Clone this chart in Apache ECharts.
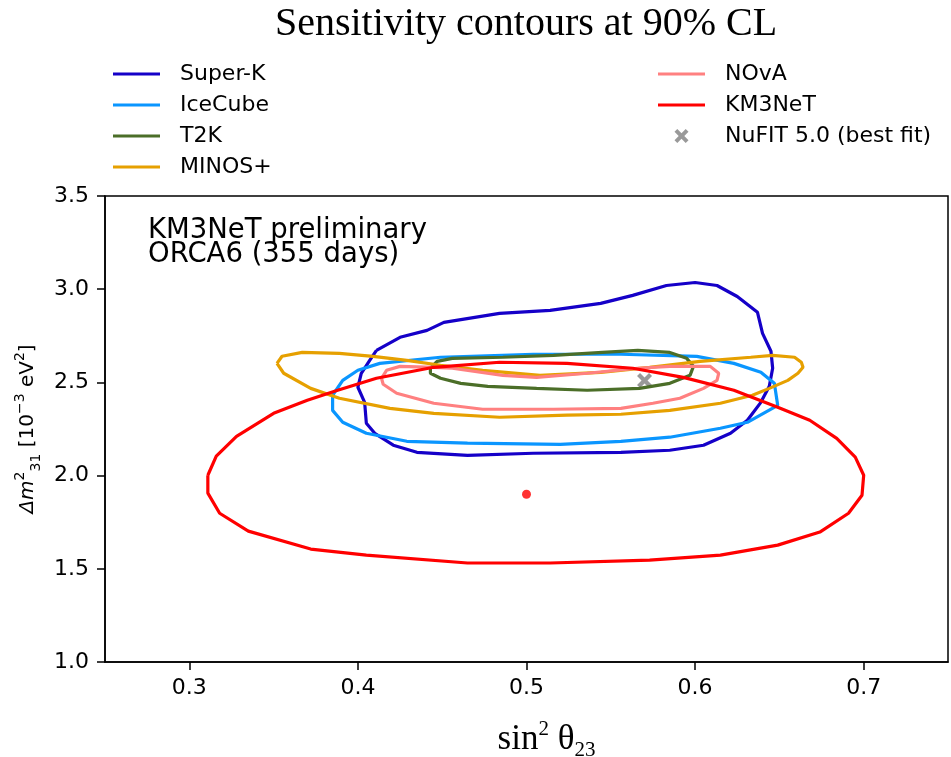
<!DOCTYPE html>
<html>
<head>
<meta charset="utf-8">
<script src="https://cdn.jsdelivr.net/npm/echarts@6/dist/echarts.min.js"></script>
<style>
  html, body { margin: 0; padding: 0; background: #fff; }
  #chart { width: 951px; height: 757px; }
</style>
</head>
<body>
<div id="chart"></div>
<script>
// contour points: [sin^2 theta23, dm^2_31 (1e-3 eV^2)]
var superK = [[0.411,2.672],[0.425,2.742],[0.441,2.779],[0.451,2.822],[0.484,2.870],[0.514,2.886],[0.544,2.924],
    [0.563,2.967],[0.583,3.020],[0.600,3.036],[0.613,3.020],[0.625,2.961],[0.637,2.876],[0.640,2.763],[0.645,2.667],
    [0.646,2.576],[0.644,2.479],[0.639,2.393],[0.631,2.297],[0.621,2.227],[0.605,2.163],[0.585,2.136],[0.556,2.125],
    [0.504,2.120],[0.465,2.109],[0.435,2.125],[0.421,2.163],[0.410,2.227],[0.405,2.281],[0.404,2.393],[0.400,2.474],
    [0.402,2.549],[0.407,2.618],[0.411,2.672]];
var iceCube = [[0.385,2.431],[0.391,2.511],[0.400,2.565],[0.413,2.602],[0.449,2.635],[0.504,2.651],[0.556,2.651],
    [0.601,2.640],[0.623,2.602],[0.639,2.554],[0.647,2.495],[0.649,2.377],[0.631,2.286],[0.615,2.254],[0.585,2.206],
    [0.556,2.184],[0.520,2.168],[0.465,2.174],[0.429,2.184],[0.405,2.227],[0.391,2.286],[0.385,2.350],[0.385,2.431]];
var t2k = [[0.443,2.576],[0.447,2.613],[0.456,2.629],[0.486,2.635],[0.516,2.645],[0.545,2.661],[0.566,2.672],
    [0.585,2.661],[0.595,2.629],[0.599,2.586],[0.597,2.538],[0.585,2.495],[0.567,2.468],[0.536,2.458],[0.506,2.468],
    [0.477,2.479],[0.461,2.495],[0.449,2.522],[0.443,2.549],[0.443,2.576]];
var minos = [[0.352,2.602],[0.355,2.640],[0.367,2.661],[0.389,2.656],[0.409,2.640],[0.429,2.618],[0.449,2.592],
    [0.474,2.565],[0.508,2.538],[0.544,2.554],[0.573,2.581],[0.603,2.613],[0.633,2.635],[0.646,2.645],[0.659,2.635],
    [0.663,2.608],[0.664,2.581],[0.661,2.549],[0.655,2.511],[0.644,2.468],[0.634,2.431],[0.615,2.388],[0.585,2.350],
    [0.556,2.329],[0.524,2.324],[0.484,2.313],[0.445,2.334],[0.419,2.361],[0.389,2.415],[0.372,2.468],[0.356,2.549],
    [0.352,2.602]];
var nova = [[0.414,2.522],[0.417,2.565],[0.425,2.586],[0.445,2.581],[0.456,2.576],[0.486,2.538],[0.506,2.527],
    [0.536,2.549],[0.566,2.576],[0.585,2.586],[0.609,2.586],[0.614,2.549],[0.613,2.511],[0.605,2.468],[0.591,2.415],
    [0.575,2.388],[0.556,2.361],[0.516,2.356],[0.474,2.356],[0.445,2.388],[0.423,2.442],[0.415,2.490],[0.414,2.522]];
var km3net = [[0.311,2.002],[0.316,2.104],[0.328,2.211],[0.350,2.334],[0.370,2.404],[0.388,2.458],[0.411,2.522],
    [0.445,2.581],[0.484,2.608],[0.524,2.602],[0.563,2.576],[0.593,2.527],[0.623,2.458],[0.649,2.367],[0.668,2.297],
    [0.684,2.200],[0.695,2.099],[0.700,2.002],[0.699,1.895],[0.691,1.798],[0.674,1.697],[0.649,1.627],[0.615,1.573],
    [0.573,1.547],[0.514,1.531],[0.465,1.531],[0.405,1.573],[0.372,1.606],[0.335,1.702],[0.318,1.798],[0.311,1.906],
    [0.311,2.002]];
var km3bestFit = [[0.5, 1.9]];
var nufitBest = [[0.57, 2.51]];
var xTicks = [0.3, 0.4, 0.5, 0.6, 0.7];

var sans = 'DejaVu Sans';
var serif = 'Liberation Serif';
var lineIcon = 'path://M0,0 L47,0 L47,3 L0,3 Z';
var crossIcon = 'path://M2,0 L5,3 L8,0 L10,2 L7,5 L10,8 L8,10 L5,7 L2,10 L0,8 L3,5 L0,2 Z';

var chart = echarts.init(document.getElementById('chart'));

function contour(name, color, data) {
    return {
        name: name,
        type: 'line',
        color: color,
        data: data,
        showSymbol: false,
        smooth: false,
        lineStyle: { width: 3.2, color: color },
        silent: true,
        animation: false
    };
}

var legendBase = {
    orient: 'vertical',
    top: 58,
    itemWidth: 47,
    itemHeight: 14,
    itemGap: 9,
    symbolKeepAspect: true,
    itemStyle: { borderWidth: 0 },
    textStyle: { fontFamily: sans, fontSize: 22, lineHeight: 22, color: '#000', padding: [0, 0, 0, 15] },
    selectedMode: false
};

var option = {
    animation: false,
    backgroundColor: '#fff',
    grid: {
        left: 105, right: 3, top: 196, bottom: 95,
        outerBoundsMode: 'none',
        show: true, borderColor: '#000', borderWidth: 1.5
    },
    legend: [
        echarts.util.merge({ left: 108, data: [
            { name: 'Super-K', icon: lineIcon },
            { name: 'IceCube', icon: lineIcon },
            { name: 'T2K', icon: lineIcon },
            { name: 'MINOS+', icon: lineIcon }
        ] }, legendBase),
        echarts.util.merge({ left: 653, data: [
            { name: 'NOvA', icon: lineIcon },
            { name: 'KM3NeT', icon: lineIcon },
            { name: 'NuFIT 5.0 (best fit)', icon: crossIcon }
        ] }, legendBase)
    ],
    xAxis: {
        type: 'value',
        min: 0.25,
        max: 0.75,
        splitLine: { show: false },
        axisLine: { lineStyle: { color: '#000', width: 1.5 } },
        axisTick: { length: 8, lineStyle: { color: '#000', width: 1.5 }, customValues: xTicks },
        axisLabel: {
            customValues: xTicks, margin: 15, color: '#000', fontFamily: sans, fontSize: 22,
            formatter: function (v) { return v.toFixed(1); }
        },
        name: '{t|sin}{s|2}{t| θ}{b|23}',
        nameLocation: 'middle',
        nameGap: 57,
        nameTextStyle: {
            padding: [0, 0, 0, 40],
            rich: {
                t: { fontFamily: serif, fontSize: 35, lineHeight: 42, color: '#000' },
                s: { fontFamily: serif, fontSize: 21, lineHeight: 42, verticalAlign: 'top', color: '#000' },
                b: { fontFamily: serif, fontSize: 21, lineHeight: 42, verticalAlign: 'bottom', color: '#000' }
            }
        }
    },
    yAxis: {
        type: 'value',
        min: 1.0,
        max: 3.5,
        interval: 0.5,
        splitLine: { show: false },
        axisLine: { lineStyle: { color: '#000', width: 1.5 } },
        axisTick: { length: 8, lineStyle: { color: '#000', width: 1.5 } },
        axisLabel: {
            margin: 16, color: '#000', fontFamily: sans, fontSize: 22,
            formatter: function (v) { return v.toFixed(1); }
        },
        name: '{i|Δm}{s|2}{b|31}{a| [10}{s|−3}{a| eV}{s|2}{a|]}',
        nameLocation: 'middle',
        nameRotate: 90,
        nameGap: 62,
        nameTextStyle: {
            rich: {
                a: { fontFamily: sans, fontSize: 20, lineHeight: 30, color: '#000' },
                i: { fontFamily: sans, fontSize: 20, lineHeight: 30, fontStyle: 'italic', color: '#000' },
                s: { fontFamily: sans, fontSize: 14, lineHeight: 30, verticalAlign: 'top', color: '#000' },
                b: { fontFamily: sans, fontSize: 14, lineHeight: 30, verticalAlign: 'bottom', color: '#000' }
            }
        }
    },
    graphic: [
        { type: 'text', x: 526, y: 24, style: { text: 'Sensitivity contours at 90% CL', font: '40px "Liberation Serif"', fill: '#000', textAlign: 'center', textVerticalAlign: 'middle' } },
        { type: 'text', x: 148, y: 231, style: { text: 'KM3NeT preliminary', font: '27.5px "DejaVu Sans"', fill: '#000', textAlign: 'left', textVerticalAlign: 'middle' } },
        { type: 'text', x: 148, y: 255, style: { text: 'ORCA6 (355 days)', font: '27.5px "DejaVu Sans"', fill: '#000', textAlign: 'left', textVerticalAlign: 'middle' } }
    ],
    series: [
        contour('Super-K', '#1500c8', superK),
        contour('IceCube', '#0a96ff', iceCube),
        contour('T2K', '#4b6e28', t2k),
        contour('MINOS+', '#e6a000', minos),
        contour('NOvA', '#ff8080', nova),
        contour('KM3NeT', '#ff0000', km3net),
        {
            name: 'km3best', type: 'scatter', data: km3bestFit, symbol: 'circle', symbolSize: 9,
            itemStyle: { color: '#ff0000' }, silent: true
        },
        {
            name: 'NuFIT 5.0 (best fit)', type: 'scatter', data: nufitBest, symbol: crossIcon, symbolSize: 15,
            color: '#808080', itemStyle: { color: '#808080' }, silent: true
        }
    ]
};
chart.setOption(option);
</script>
</body>
</html>
